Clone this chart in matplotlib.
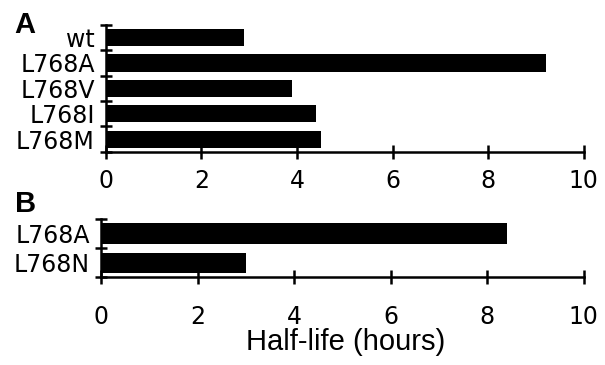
import matplotlib.pyplot as plt
from matplotlib.ticker import FixedLocator

# panel A data
labels_a = ['wt', 'L768A', 'L768V', 'L768I', 'L768M']
half_life_a = [2.9, 9.2, 3.9, 4.4, 4.5]

# panel B data
labels_b = ['L768A', 'L768N']
half_life_b = [8.4, 3.0]

xticks = [0, 2, 4, 6, 8, 10]

plt.rcParams['font.family'] = 'DejaVu Sans'

fig = plt.figure(figsize=(6.05, 3.65), dpi=100)
ax_a = fig.add_axes([0.175, 0.584, 0.790, 0.348])
ax_b = fig.add_axes([0.167, 0.241, 0.798, 0.159])


def style_panel(ax, labels, values, bar_h, xpad):
    pos = list(range(len(labels)))
    ax.barh(pos, values, height=bar_h, color='black')
    ax.set_xlim(0, 10)
    ax.set_ylim(len(labels) - 0.5, -0.5)
    ax.set_xticks(xticks)
    ax.set_xticklabels([str(t) for t in xticks])
    ax.set_yticks(pos)
    ax.set_yticklabels(labels)
    ax.yaxis.set_minor_locator(FixedLocator([p - 0.5 for p in pos] + [len(labels) - 0.5]))
    for side in ['top', 'right']:
        ax.spines[side].set_visible(False)
    for side in ['left', 'bottom']:
        ax.spines[side].set_linewidth(1.8)
    ax.tick_params(axis='y', which='major', length=0, pad=8, labelsize=17)
    ax.tick_params(axis='y', which='minor', direction='inout', length=8, width=1.8)
    ax.tick_params(axis='x', which='major', direction='inout', length=10, width=1.8,
                   pad=xpad, labelsize=17)


style_panel(ax_a, labels_a, half_life_a, 0.68, 7)
style_panel(ax_b, labels_b, half_life_b, 0.69, 15)

fig.text(0.572, 0.063, 'Half-life (hours)', family='Liberation Sans', fontsize=21,
         ha='center', va='center')
fig.text(0.024, 0.909, 'A', family='Liberation Sans', fontsize=21, fontweight='bold',
         ha='left', va='baseline')
fig.text(0.024, 0.419, 'B', family='Liberation Sans', fontsize=21, fontweight='bold',
         ha='left', va='baseline')

fig.savefig('out.png', dpi=100)
